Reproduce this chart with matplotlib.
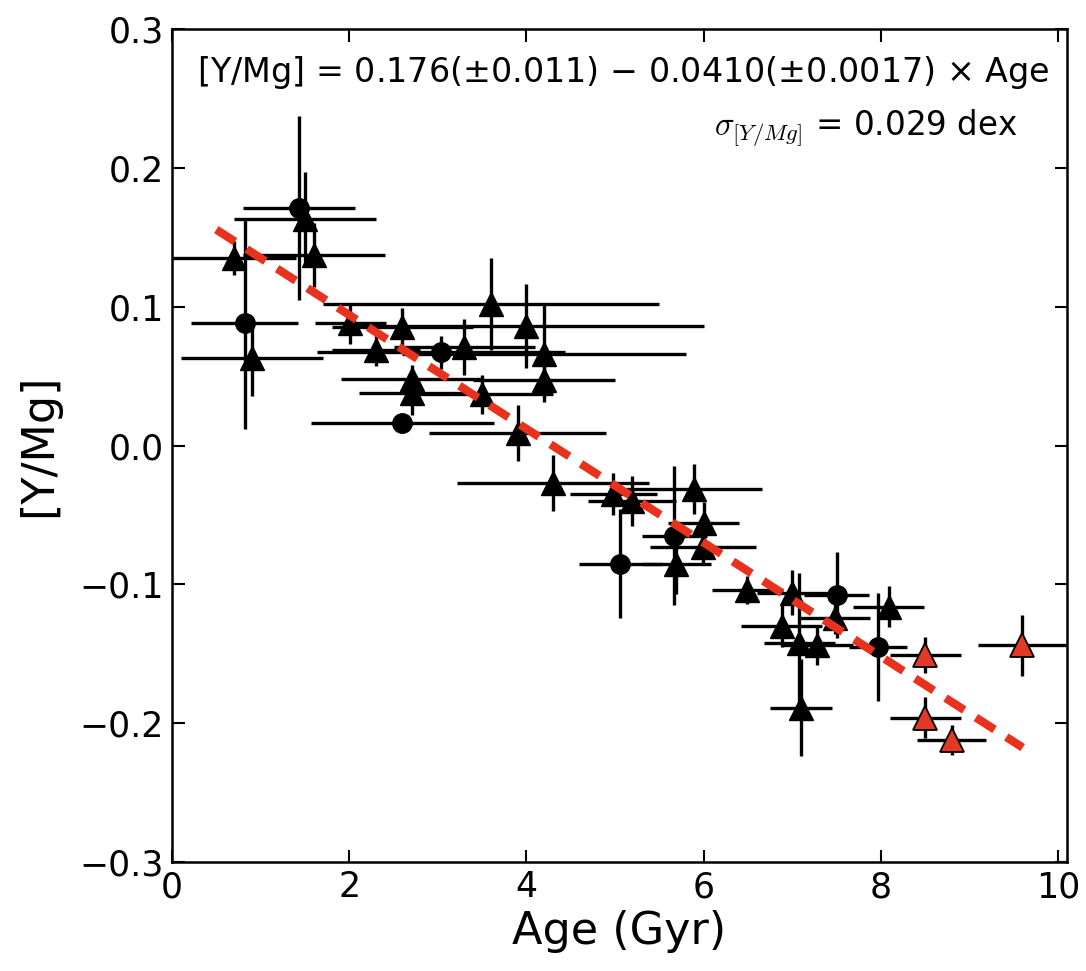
import matplotlib
matplotlib.use("Agg")
import matplotlib.pyplot as plt
import numpy as np

# Solar twins: age vs [Y/Mg]
tri_age = [0.70, 1.50, 1.60, 0.90, 2.01, 2.60, 2.30, 3.60, 4.00, 3.30, 4.20, 4.20,
           2.71, 2.71, 3.50, 3.90, 4.30, 4.98, 5.19, 5.89, 6.00, 5.99, 5.69, 6.49,
           7.00, 6.88, 7.08, 7.28, 7.48, 7.10, 8.09]
tri_ymg = [0.135, 0.163, 0.137, 0.063, 0.088, 0.085, 0.069, 0.102, 0.086, 0.071, 0.066, 0.047,
           0.048, 0.038, 0.037, 0.009, -0.027, -0.035, -0.040, -0.031, -0.056, -0.073, -0.085, -0.104,
           -0.106, -0.130, -0.142, -0.144, -0.124, -0.189, -0.116]
tri_age_err = [0.70, 0.80, 0.80, 0.80, 0.40, 0.80, 0.50, 1.90, 2.00, 0.80, 1.60, 0.80,
               0.80, 0.60, 0.80, 1.00, 1.08, 0.49, 0.50, 0.77, 0.40, 0.60, 0.39, 0.40,
               0.40, 0.46, 0.40, 0.40, 0.40, 0.35, 0.40]
tri_ymg_err = [0.012, 0.034, 0.023, 0.027, 0.015, 0.014, 0.012, 0.033, 0.030, 0.020, 0.035, 0.012,
               0.010, 0.016, 0.014, 0.020, 0.020, 0.015, 0.018, 0.018, 0.015, 0.012, 0.022, 0.010,
               0.016, 0.015, 0.050, 0.014, 0.012, 0.035, 0.015]

circ_age = [0.82, 1.43, 3.04, 2.60, 5.06, 5.67, 7.50, 7.97]
circ_ymg = [0.088, 0.171, 0.067, 0.016, -0.085, -0.065, -0.108, -0.145]
circ_age_err = [0.60, 0.63, 1.40, 1.03, 0.47, 0.37, 0.37, 0.33]
circ_ymg_err = [0.076, 0.066, 0.012, 0.003, 0.039, 0.050, 0.031, 0.039]

old_age = [8.50, 8.50, 8.80, 9.59]
old_ymg = [-0.151, -0.196, -0.212, -0.144]
old_age_err = [0.40, 0.40, 0.39, 0.50]
old_ymg_err = [0.013, 0.015, 0.011, 0.022]

fit_intercept = 0.176
fit_slope = -0.0410
fit_range = [0.5, 9.6]

xticks = [0, 2, 4, 6, 8, 10]
yticks = [-0.3, -0.2, -0.1, 0.0, 0.1, 0.2, 0.3]

plt.rcParams['font.family'] = ['DejaVu Sans']
plt.rcParams['lines.scale_dashes'] = False

fig = plt.figure(figsize=(10.86, 9.71), dpi=100)
ax = fig.add_axes([172 / 1086, 1 - 862 / 971, 895 / 1086, 833 / 971])

eb = dict(ls='none', ecolor='black', elinewidth=2.4, capsize=0)
ax.errorbar(tri_age, tri_ymg, xerr=tri_age_err, yerr=tri_ymg_err, marker='^',
            ms=17, mfc='black', mec='black', zorder=3, **eb)
ax.errorbar(circ_age, circ_ymg, xerr=circ_age_err, yerr=circ_ymg_err, marker='o',
            ms=14, mfc='black', mec='black', zorder=3, **eb)
ax.errorbar(old_age, old_ymg, xerr=old_age_err, yerr=old_ymg_err, marker='^',
            ms=17, mfc='#e23a27', mec='black', mew=1.3, zorder=3, **eb)

xf = np.array(fit_range)
ax.plot(xf, fit_intercept + fit_slope * xf, color='#e8321e', lw=6,
        dashes=(16, 10), dash_capstyle='butt', zorder=5)

ax.text(0.981, 0.948,
        r'[Y/Mg] = 0.176($\pm$0.011) $-$ 0.0410($\pm$0.0017) $\times$ Age',
        transform=ax.transAxes, ha='right', va='center', fontsize=24)
ax.text(0.944, 0.881, r'$\sigma_{[Y/Mg]}$ = 0.029 dex', transform=ax.transAxes,
        ha='right', va='center', fontsize=23.5, math_fontfamily='cm')

ax.set_xlim(0, 10.1)
ax.set_ylim(-0.3, 0.3)
ax.set_xticks(xticks)
ax.set_yticks(yticks)
ax.set_yticklabels(['\u22120.3', '\u22120.2', '\u22120.1', '0.0', '0.1', '0.2', '0.3'])
ax.tick_params(direction='in', length=9, width=1.5, top=True, right=True,
               labelsize=25, pad=6)
for s in ax.spines.values():
    s.set_linewidth(1.8)

ax.set_xlabel('Age (Gyr)', fontsize=32, labelpad=4)
ax.set_ylabel('[Y/Mg]', fontsize=32, labelpad=14)

fig.savefig('out.png', dpi=100)
